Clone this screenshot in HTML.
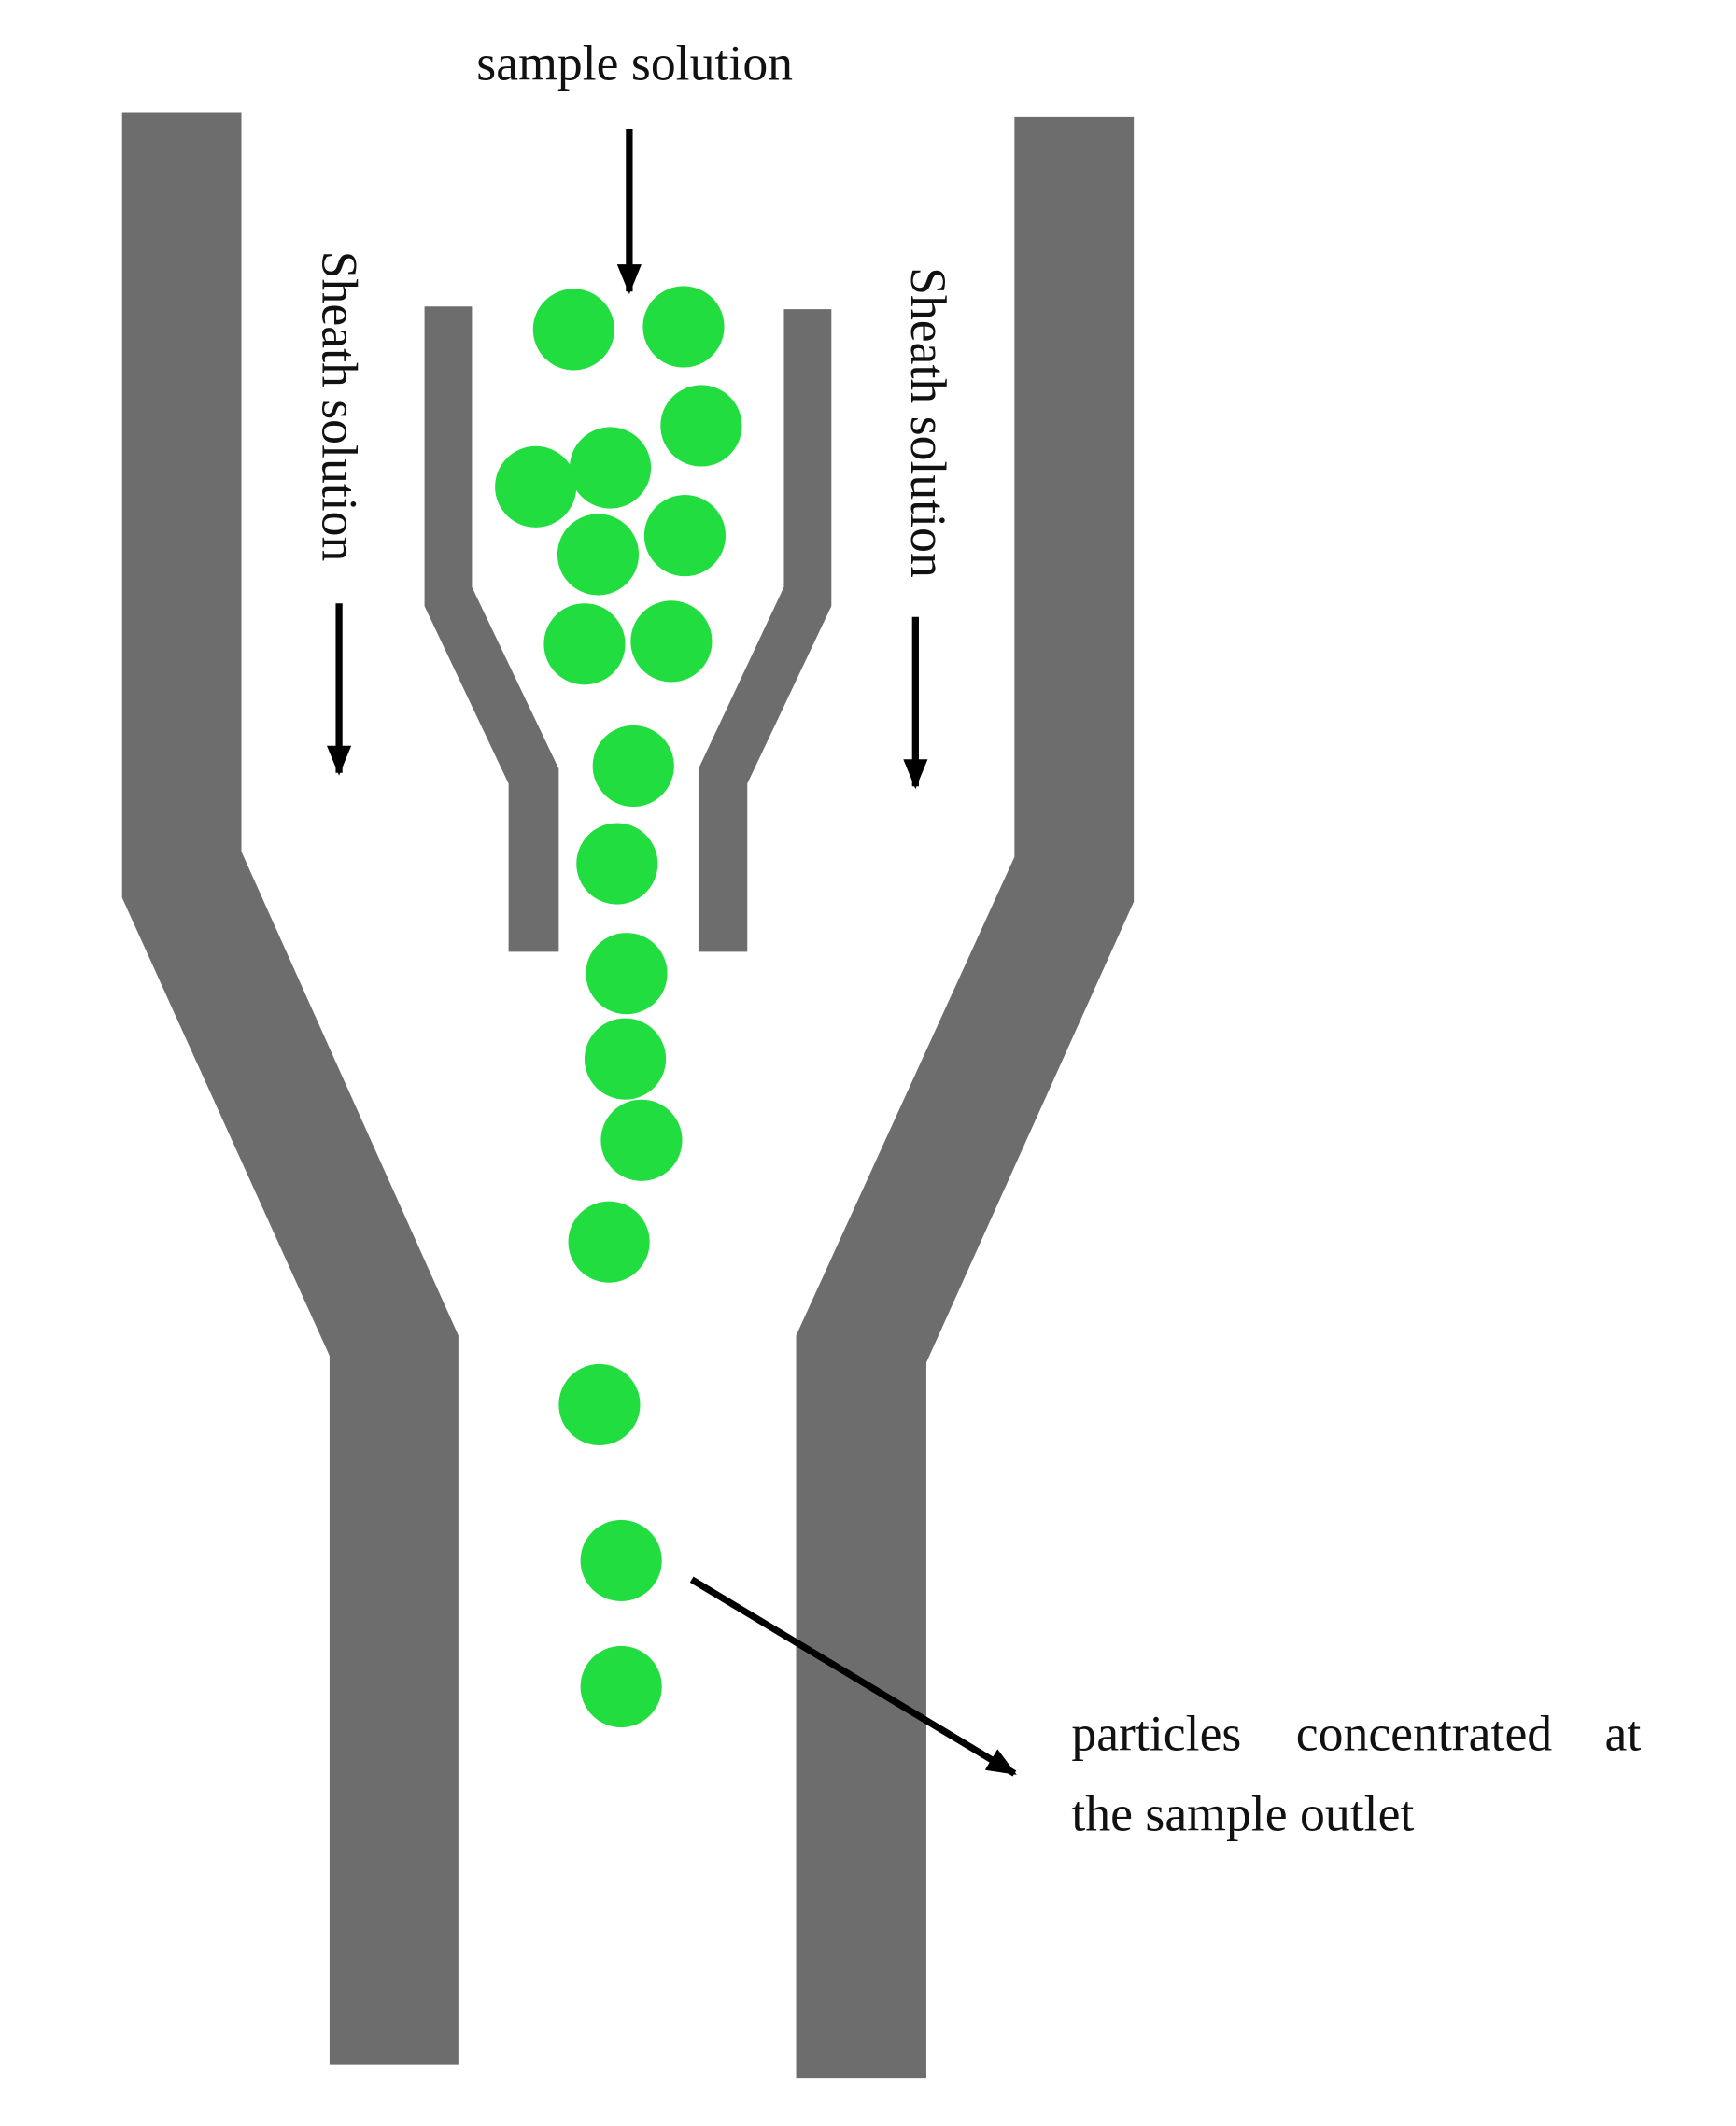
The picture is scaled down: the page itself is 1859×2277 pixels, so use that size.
<!DOCTYPE html>
<html><head><meta charset="utf-8"><style>
html,body{margin:0;padding:0;background:#fff;}
svg{display:block;}
text{font-family:"Liberation Serif",serif;fill:#111;}
</style></head><body>
<svg width="1859" height="2277" viewBox="0 0 1280 1568" preserveAspectRatio="none" xmlns="http://www.w3.org/2000/svg">
<defs><marker id="ah2" markerWidth="22" markerHeight="18" refX="20" refY="9" orient="auto" markerUnits="userSpaceOnUse"><path d="M0,0 L22,9 L0,18 z" fill="#000"/></marker></defs>
<g fill="#6d6d6d">
<polygon points="90,83 178,83 178,628 338,985 338,1523 243,1523 243,1000 90,662"/>
<polygon points="748,86 836,86 836,665 683,1005 683,1533 587,1533 587,985 748,632"/>
<polygon points="313,226 348,226 348,433 412,567 412,702 375,702 375,578 313,447"/>
<polygon points="578,228 613,228 613,447 551,578 551,702 515,702 515,567 578,433"/>
</g>
<g fill="#22dd3f">
<circle cx="423" cy="243" r="30"/><circle cx="504" cy="241" r="30"/><circle cx="517" cy="314" r="30"/>
<circle cx="395" cy="359" r="30"/><circle cx="450" cy="345" r="30"/><circle cx="441" cy="409" r="30"/>
<circle cx="505" cy="395" r="30"/><circle cx="431" cy="475" r="30"/><circle cx="495" cy="473" r="30"/>
<circle cx="467" cy="565" r="30"/><circle cx="455" cy="637" r="30"/><circle cx="462" cy="718" r="30"/>
<circle cx="461" cy="781" r="30"/><circle cx="473" cy="841" r="30"/><circle cx="449" cy="916" r="30"/>
<circle cx="442" cy="1036" r="30"/><circle cx="458" cy="1151" r="30"/><circle cx="458" cy="1244" r="30"/>
</g>
<g stroke="#000" stroke-width="5" fill="none">
<line x1="464" y1="95" x2="464" y2="215" marker-end="url(#ah2)"/>
<line x1="250" y1="445" x2="250" y2="570" marker-end="url(#ah2)"/>
<line x1="675" y1="455" x2="675" y2="580" marker-end="url(#ah2)"/>
<line x1="510" y1="1165" x2="748" y2="1308" marker-end="url(#ah2)"/>
</g>
<text x="468" y="59" font-size="37" text-anchor="middle">sample solution</text>
<text transform="translate(238,185) rotate(90)" font-size="37">Sheath solution</text>
<text transform="translate(672,197) rotate(90)" font-size="37">Sheath solution</text>
<text x="790" y="1291" font-size="37">particles</text>
<text x="1050" y="1291" font-size="37" text-anchor="middle">concentrated</text>
<text x="1210" y="1291" font-size="37" text-anchor="end">at</text>
<text x="790" y="1350" font-size="37">the sample outlet</text>
</svg>
</body></html>
